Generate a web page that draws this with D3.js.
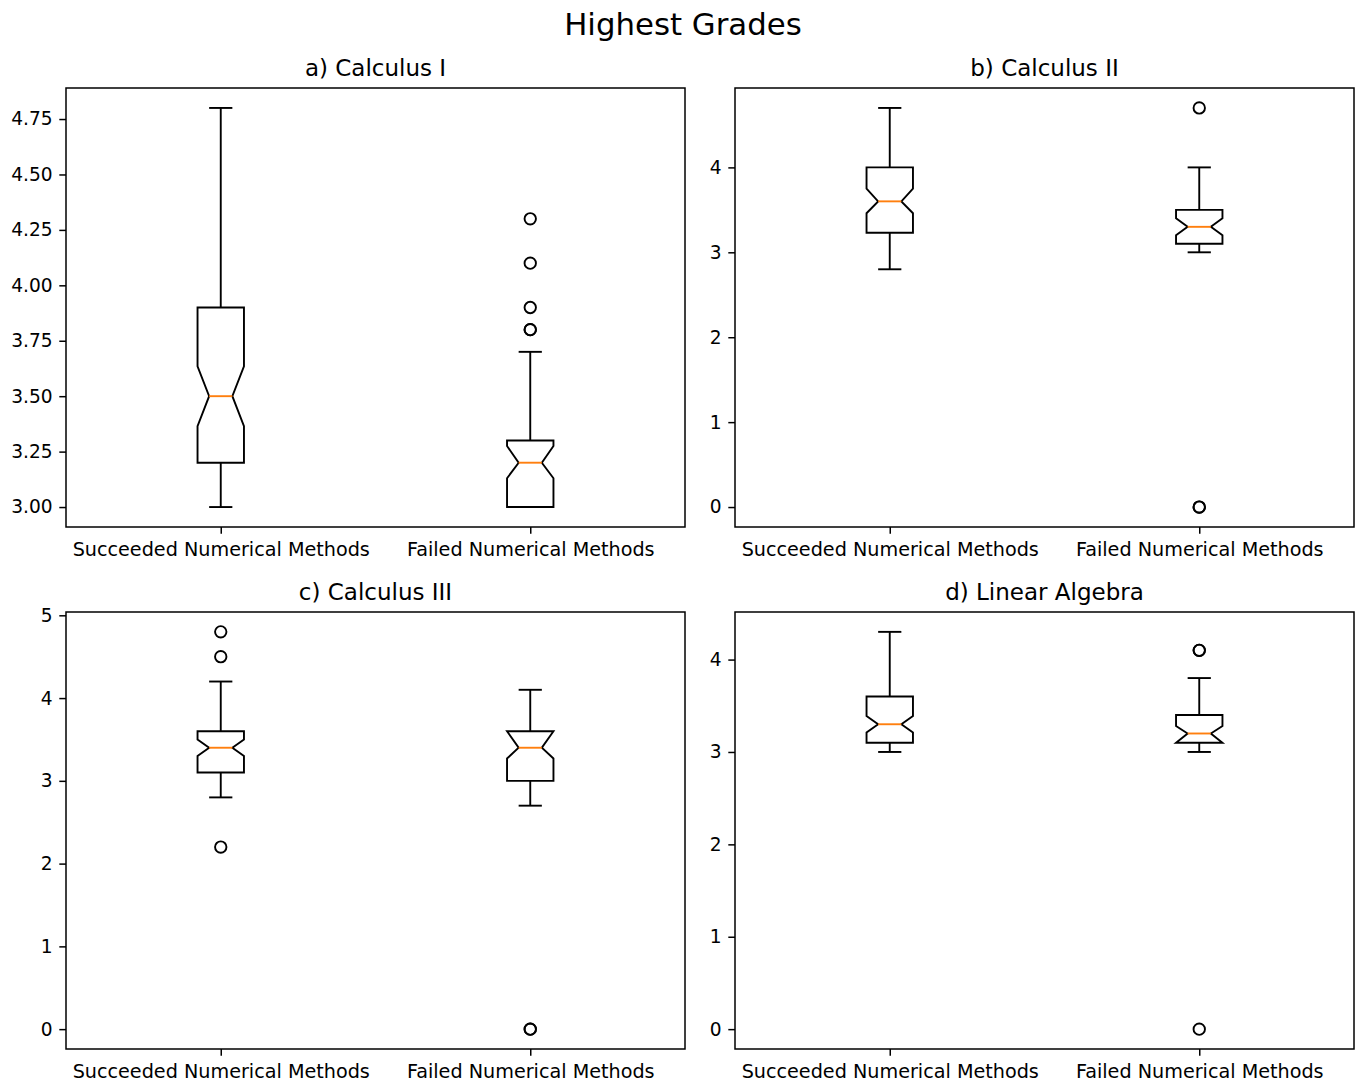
<!DOCTYPE html>
<html>
<head>
<meta charset="utf-8">
<script src="https://cdn.jsdelivr.net/npm/d3@7"></script>
<style>
  html, body { margin: 0; padding: 0; background: #fff; }
  text { font-family: "DejaVu Sans", sans-serif; fill: #000; }
</style>
</head>
<body>
<svg id="chart" width="1355" height="1082"></svg>
<script>
// ---------- data ----------
const suptitle = "Highest Grades";
const panelTitles = ["a) Calculus I", "b) Calculus II", "c) Calculus III", "d) Linear Algebra"];
const categories = ["Succeeded Numerical Methods", "Failed Numerical Methods"];

// per panel: [succeeded, failed]
const whiskerLow  = [[3.0, 3.0], [2.8, 3.0], [2.8, 2.7], [3.0, 3.0]];
const q1          = [[3.2, 3.0], [3.23, 3.1], [3.1, 3.0], [3.1, 3.1]];
const notchLow    = [[3.365, 3.13], [3.46, 3.2], [3.3, 3.27], [3.21, 3.1]];
const medians     = [[3.5, 3.2], [3.6, 3.3], [3.4, 3.4], [3.3, 3.2]];
const notchHigh   = [[3.635, 3.275], [3.75, 3.4], [3.5, 3.6], [3.39, 3.28]];
const q3          = [[3.9, 3.3], [4.0, 3.5], [3.6, 3.6], [3.6, 3.4]];
const whiskerHigh = [[4.8, 3.7], [4.7, 4.0], [4.2, 4.1], [4.3, 3.8]];
const fliers      = [
  [[], [4.3, 4.1, 3.9, 3.8, 3.8]],
  [[], [4.7, 0, 0]],
  [[4.8, 4.5, 2.2], [0, 0]],
  [[], [4.1, 4.1, 0]]
];
const tickValues = [
  [3.0, 3.25, 3.5, 3.75, 4.0, 4.25, 4.5, 4.75],
  [0, 1, 2, 3, 4],
  [0, 1, 2, 3, 4, 5],
  [0, 1, 2, 3, 4]
];
const tickFormats = [".2f", "d", "d", "d"];

// ---------- layout ----------
const svg = d3.select("#chart");
const panels = [
  {x0: 66,  x1: 685,  y0: 88,  y1: 527},
  {x0: 735, x1: 1354, y0: 88,  y1: 527},
  {x0: 66,  x1: 685,  y0: 612, y1: 1049},
  {x0: 735, x1: 1354, y0: 612, y1: 1049}
];
const LW = 1.9;
const tickLen = 6.7;
const tickPad = 6.7;
const tickFont = 19.2;
const titleFont = 23;

svg.append("text")
  .attr("x", 683).attr("y", 35)
  .attr("text-anchor", "middle")
  .attr("font-size", 30.8)
  .text(suptitle);

panels.forEach((p, i) => {
  const g = svg.append("g");
  const positions = [1, 2];
  const x = d3.scaleLinear().domain([0.5, 2.5]).range([p.x0, p.x1]);

  // autoscale with 5% margins like matplotlib
  const allVals = [];
  for (let k = 0; k < 2; k++) {
    allVals.push(whiskerLow[i][k], whiskerHigh[i][k], q1[i][k], q3[i][k], ...fliers[i][k]);
  }
  const lo = d3.min(allVals), hi = d3.max(allVals);
  const m = (hi - lo) * 0.05;
  const y = d3.scaleLinear().domain([lo - m, hi + m]).range([p.y1, p.y0]);

  // y axis
  const yAxis = d3.axisLeft(y)
    .tickValues(tickValues[i])
    .tickFormat(d3.format(tickFormats[i]))
    .tickSize(tickLen).tickPadding(tickPad);
  const ya = g.append("g").attr("transform", `translate(${p.x0},0)`).call(yAxis);
  ya.select(".domain").remove();
  ya.selectAll("line").attr("stroke", "#000").attr("stroke-width", 1.5);
  ya.selectAll("text").attr("font-size", tickFont - 0.6).attr("font-family", "DejaVu Sans").attr("fill", "#000");

  // x axis
  const xAxis = d3.axisBottom(x)
    .tickValues(positions)
    .tickFormat((d, j) => categories[j])
    .tickSize(tickLen).tickPadding(tickPad + 1.5);
  const xa = g.append("g").attr("transform", `translate(0,${p.y1})`).call(xAxis);
  xa.select(".domain").remove();
  xa.selectAll("line").attr("stroke", "#000").attr("stroke-width", 1.5);
  xa.selectAll("text").attr("font-size", tickFont).attr("font-family", "DejaVu Sans").attr("fill", "#000");

  // frame
  g.append("rect")
    .attr("x", p.x0).attr("y", p.y0)
    .attr("width", p.x1 - p.x0).attr("height", p.y1 - p.y0)
    .attr("fill", "none").attr("stroke", "#000").attr("stroke-width", 1.5);

  // title
  g.append("text")
    .attr("x", (p.x0 + p.x1) / 2).attr("y", p.y0 - 12)
    .attr("text-anchor", "middle")
    .attr("font-size", titleFont)
    .text(panelTitles[i]);

  // boxes
  const w = 0.15;
  positions.forEach((pos, k) => {
    const L = x(pos - w / 2), R = x(pos + w / 2);
    const cL = x(pos - w / 4), cR = x(pos + w / 4);
    const cx = x(pos);
    const pts = [
      [L, y(q1[i][k])], [R, y(q1[i][k])], [R, y(notchLow[i][k])], [cR, y(medians[i][k])],
      [R, y(notchHigh[i][k])], [R, y(q3[i][k])], [L, y(q3[i][k])], [L, y(notchHigh[i][k])],
      [cL, y(medians[i][k])], [L, y(notchLow[i][k])]
    ];
    g.append("path")
      .attr("d", d3.line()(pts) + "Z")
      .attr("fill", "none").attr("stroke", "#000")
      .attr("stroke-width", LW).attr("stroke-linejoin", "miter");

    // whiskers
    g.append("line")
      .attr("x1", cx).attr("x2", cx)
      .attr("y1", y(q1[i][k])).attr("y2", y(whiskerLow[i][k]))
      .attr("stroke", "#000").attr("stroke-width", LW);
    g.append("line")
      .attr("x1", cx).attr("x2", cx)
      .attr("y1", y(q3[i][k])).attr("y2", y(whiskerHigh[i][k]))
      .attr("stroke", "#000").attr("stroke-width", LW);
    // caps
    [whiskerLow[i][k], whiskerHigh[i][k]].forEach(v => {
      g.append("line")
        .attr("x1", cL).attr("x2", cR)
        .attr("y1", y(v)).attr("y2", y(v))
        .attr("stroke", "#000").attr("stroke-width", LW);
    });
    // median
    g.append("line")
      .attr("x1", cL).attr("x2", cR)
      .attr("y1", y(medians[i][k])).attr("y2", y(medians[i][k]))
      .attr("stroke", "#ff7f0e").attr("stroke-width", LW);
    // fliers
    g.selectAll(null).data(fliers[i][k]).enter().append("circle")
      .attr("cx", cx).attr("cy", d => y(d)).attr("r", 5.7)
      .attr("fill", "none").attr("stroke", "#000").attr("stroke-width", LW);
  });
});
</script>
</body>
</html>
